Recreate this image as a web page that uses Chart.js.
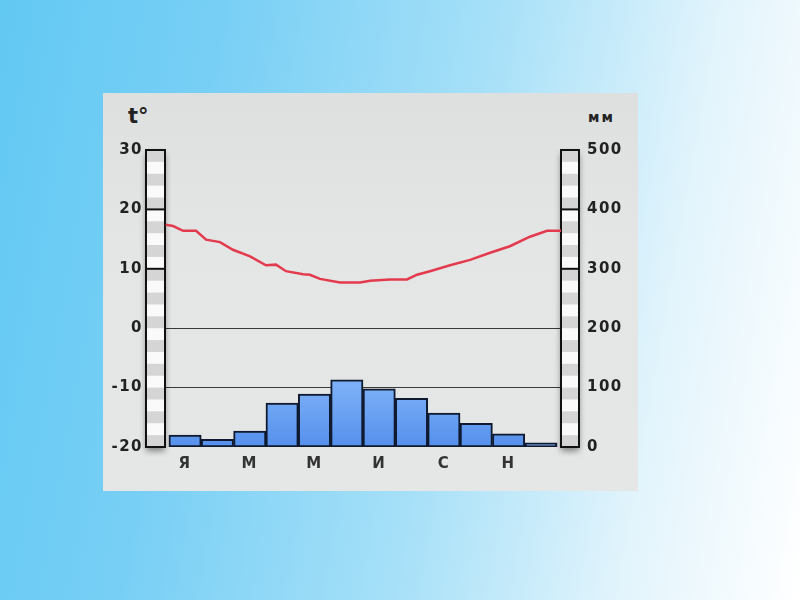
<!DOCTYPE html>
<html><head><meta charset="utf-8">
<script src="https://cdn.jsdelivr.net/npm/chart.js@4"></script>
<style>
html,body{margin:0;padding:0;width:800px;height:600px;overflow:hidden;}
body{background:linear-gradient(100deg,#62c9f3 0%,#78cff5 25%,#a6e0f8 55%,#e2f4fc 80%,#ffffff 100%);position:relative;}
#panel{position:absolute;left:103px;top:93px;width:535px;height:398px;background:linear-gradient(180deg,#dee0e0 0%,#e4e6e6 40%,#e5e7e7 100%);}
#c{position:absolute;left:0;top:0;}
.unit{position:absolute;font-family:"DejaVu Sans",sans-serif;font-weight:bold;color:#222;line-height:1;}
</style></head><body>
<div id="panel">
<div class="unit" style="left:25px;top:13px;font-size:21px;">t°</div>
<div class="unit" style="left:485px;top:17px;font-size:14px;letter-spacing:2px;">мм</div>
<canvas id="c" width="535" height="398"></canvas>
</div>
<script>
// Data
const months = ['Я','Ф','М','А','М','И','И','А','С','О','Н','Д'];
const precipitation = [20, 13, 27, 74, 89, 113, 98, 82, 57, 40, 22, 7];
const tempX = [-0.1,0.13,0.44,0.84,1.15,1.58,1.98,2.51,3.0,3.31,3.62,4.15,4.36,4.67,5.29,5.91,6.22,6.83,7.36,7.67,8.07,8.69,9.31,9.93,10.54,11.16,11.69,12.12];
const tempY = [17.4,17.2,16.4,16.4,14.9,14.5,13.2,12.1,10.6,10.7,9.6,9.1,9.0,8.3,7.7,7.7,8.0,8.2,8.2,9.0,9.6,10.6,11.5,12.7,13.8,15.4,16.4,16.4];
const tempTicks = [-20,-10,0,10,20,30];
const precipTicks = [0,100,200,300,400,500];

const barData = precipitation.map((v,i)=>({x:i+0.5,y:v}));
const lineData = tempX.map((x,i)=>({x:x,y:tempY[i]}));

const columnsPlugin = {
  id:'columns',
  beforeDraw(chart){ chart.ctx.letterSpacing = '1.5px'; },
  beforeDatasetsDraw(chart){
    const ctx = chart.ctx;
    const ca = chart.chartArea;
    const draw = (scale, xLeft, w, majors) => {
      const top = scale.getPixelForValue(scale.max);
      const bottom = scale.getPixelForValue(scale.min);
      ctx.save();
      ctx.shadowColor = 'rgba(0,0,0,0.45)';
      ctx.shadowBlur = 6;
      ctx.shadowOffsetY = 4;
      ctx.fillStyle = '#fafafa';
      ctx.fillRect(xLeft, top, w, bottom-top);
      ctx.restore();
      ctx.save();
      const step = (scale.max - scale.min)/25;
      ctx.fillStyle = '#d5d5d5';
      for (let i=0;i<25;i+=2){
        const a = scale.getPixelForValue(scale.max - i*step);
        const b = scale.getPixelForValue(scale.max - (i+1)*step);
        ctx.fillRect(xLeft, a, w, b-a);
      }
      ctx.strokeStyle = '#111';
      ctx.lineWidth = 2;
      ctx.strokeRect(xLeft, top, w, bottom-top);
      majors.forEach(v=>{
        const y = scale.getPixelForValue(v);
        ctx.beginPath(); ctx.moveTo(xLeft, y); ctx.lineTo(xLeft+w, y); ctx.stroke();
      });
      ctx.restore();
    };
    draw(chart.scales.y, ca.left-19, 19, [20,10]);
    draw(chart.scales.y1, ca.right, 18, [400,300]);
  }
};

new Chart(document.getElementById('c'), {
  data:{
    datasets:[
      {
        type:'line', data:lineData, xAxisID:'x', yAxisID:'y',
        borderColor:'#e33a4e', borderWidth:2.5, pointRadius:0, tension:0, order:0
      },
      {
        type:'bar', data:barData, xAxisID:'x', yAxisID:'y1',
        barPercentage:1, categoryPercentage:1,
        borderColor:'#0f1a30', borderWidth:2, borderSkipped:false,
        backgroundColor:(c)=>{
          const ch = c.chart; const ca = ch.chartArea;
          if(!ca) return '#6a9ff2';
          const g = ch.ctx.createLinearGradient(0, ch.scales.y1.getPixelForValue(115), 0, ca.bottom);
          g.addColorStop(0,'#80b3f8'); g.addColorStop(1,'#5590ec');
          return g;
        },
        order:1
      }
    ]
  },
  options:{
    responsive:false, animation:false,
    layout:{padding:{top:57,left:0,right:0,bottom:0}},
    plugins:{legend:{display:false},tooltip:{enabled:false}},
    scales:{
      x:{
        type:'linear', min:-0.12, max:12.12, offset:false,
        afterBuildTicks(scale){ scale.ticks = months.map((m,i)=>({value:i+0.5})).filter((t,i)=>i%2===0); },
        afterFit(scale){ scale.height = 44; },
        grid:{display:false, drawTicks:false, offset:false}, border:{display:false},
        ticks:{autoSkip:false, maxRotation:0, padding:8, color:'#333',
          font:{family:'DejaVu Sans', weight:'bold', size:15},
          callback:(v)=>months[Math.round(v-0.5)]}
      },
      y:{
        position:'left', min:-20, max:30,
        afterBuildTicks(scale){ scale.ticks = tempTicks.map(v=>({value:v})); },
        afterFit(scale){ scale.width = 62; },
        grid:{drawTicks:false, lineWidth:1,
          color:(c)=> (c.tick && (c.tick.value===0 || c.tick.value===-10)) ? '#3a3a3a' : 'rgba(0,0,0,0)'},
        border:{display:false},
        ticks:{padding:22, color:'#222', font:{family:'DejaVu Sans', weight:'bold', size:15}}
      },
      y1:{
        position:'right', min:0, max:500,
        afterBuildTicks(scale){ scale.ticks = precipTicks.map(v=>({value:v})); },
        afterFit(scale){ scale.width = 77; },
        grid:{display:false, drawTicks:false}, border:{display:false},
        ticks:{padding:26, color:'#222', font:{family:'DejaVu Sans', weight:'bold', size:15}}
      }
    }
  },
  plugins:[columnsPlugin]
});
</script>
</body></html>
